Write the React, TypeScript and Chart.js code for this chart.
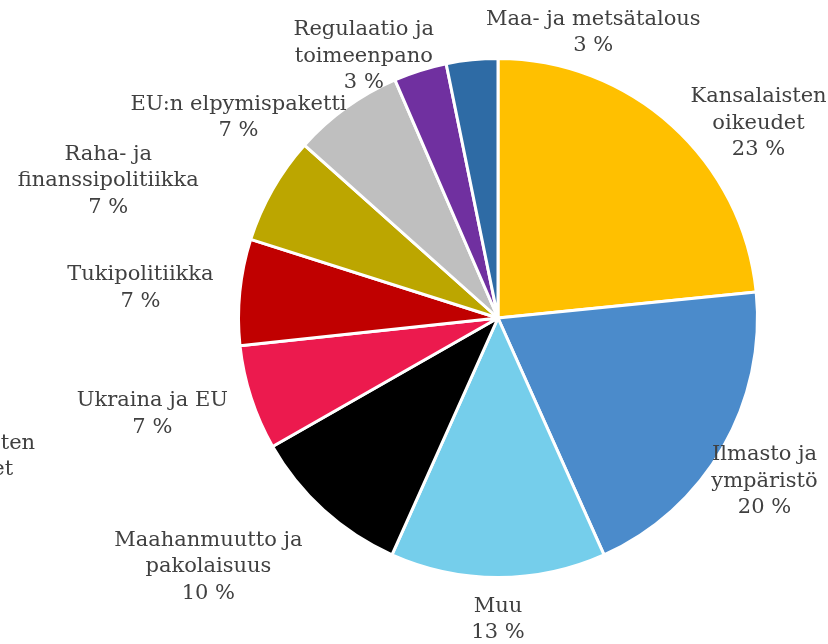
import React, { useEffect, useRef } from "react";
import { Chart, registerables } from "chart.js";

Chart.register(...registerables);

const categories: string[] = [
  "Kansalaisten\noikeudet",
  "Ilmasto ja\nympäristö",
  "Muu",
  "Maahanmuutto ja\npakolaisuus",
  "Ukraina ja EU",
  "Tukipolitiikka",
  "Raha- ja\nfinanssipolitiikka",
  "EU:n elpymispaketti",
  "Regulaatio ja\ntoimeenpano",
  "Maa- ja metsätalous",
];

// shares (%); labels show them rounded
const shares: number[] = [23.4, 19.9, 13.4, 10.05, 6.55, 6.6, 6.7, 6.9, 3.3, 3.2];

const sliceColors: string[] = [
  "#FFC000",
  "#4B8BCB",
  "#75CEEB",
  "#000000",
  "#EC1A4E",
  "#C00000",
  "#BCA600",
  "#BFBFBF",
  "#7030A0",
  "#2E6BA5",
];

// label block centres, relative to pie centre, in units of the radius
const labelOffsets: [number, number][] = [
  [1.004, -0.75],
  [1.027, 0.629],
  [0.0, 1.162],
  [-1.116, 0.958],
  [-1.332, 0.371],
  [-1.378, -0.116],
  [-1.502, -0.529],
  [-1.0, -0.772],
  [-0.517, -1.008],
  [0.367, -1.1],
];

// a stray, mostly clipped copy of the first label at the left edge
const strayLabelIndex = 0;
const strayOffset: [number, number] = [-2.046, 0.585];

const FONT = '21px "DejaVu Serif", Georgia, serif';
const LINE_H = 26.5;
const TEXT_COLOR = "#404040";

const labelPlugin = {
  id: "outsideLabels",
  afterDraw(chart: any) {
    const ctx = chart.ctx as CanvasRenderingContext2D;
    const meta = chart.getDatasetMeta(0);
    const drawBlock = (i: number, off: [number, number]) => {
      const arc = meta.data[i] as any;
      const R = arc.outerRadius;
      const cx = arc.x + off[0] * R;
      const cy = arc.y + off[1] * R;
      const lines = [...categories[i].split("\n"), `${Math.round(shares[i])} %`];
      const top = cy - ((lines.length - 1) * LINE_H) / 2;
      lines.forEach((t, k) => ctx.fillText(t, cx, top + k * LINE_H));
    };
    ctx.save();
    ctx.font = FONT;
    ctx.fillStyle = TEXT_COLOR;
    ctx.textAlign = "center";
    ctx.textBaseline = "middle";
    for (let i = 0; i < shares.length; i++) drawBlock(i, labelOffsets[i]);
    drawBlock(strayLabelIndex, strayOffset);
    ctx.restore();
  },
};

export default function App() {
  const ref = useRef<HTMLCanvasElement | null>(null);
  useEffect(() => {
    document.body.style.margin = "0";
    const chart = new Chart(ref.current as HTMLCanvasElement, {
      type: "pie",
      data: {
        labels: categories,
        datasets: [
          {
            data: shares,
            backgroundColor: sliceColors,
            borderColor: "#FFFFFF",
            borderWidth: 3,
          },
        ],
      },
      options: {
        responsive: false,
        animation: false,
        layout: { padding: { left: 237, right: 69, top: 57, bottom: 65 } },
        plugins: {
          legend: { display: false },
          tooltip: { enabled: false },
        },
      },
      plugins: [labelPlugin],
    });
    return () => chart.destroy();
  }, []);
  return (
    <div style={{ width: 828, height: 644, background: "#fff" }}>
      <canvas ref={ref} width={828} height={644} />
    </div>
  );
}
